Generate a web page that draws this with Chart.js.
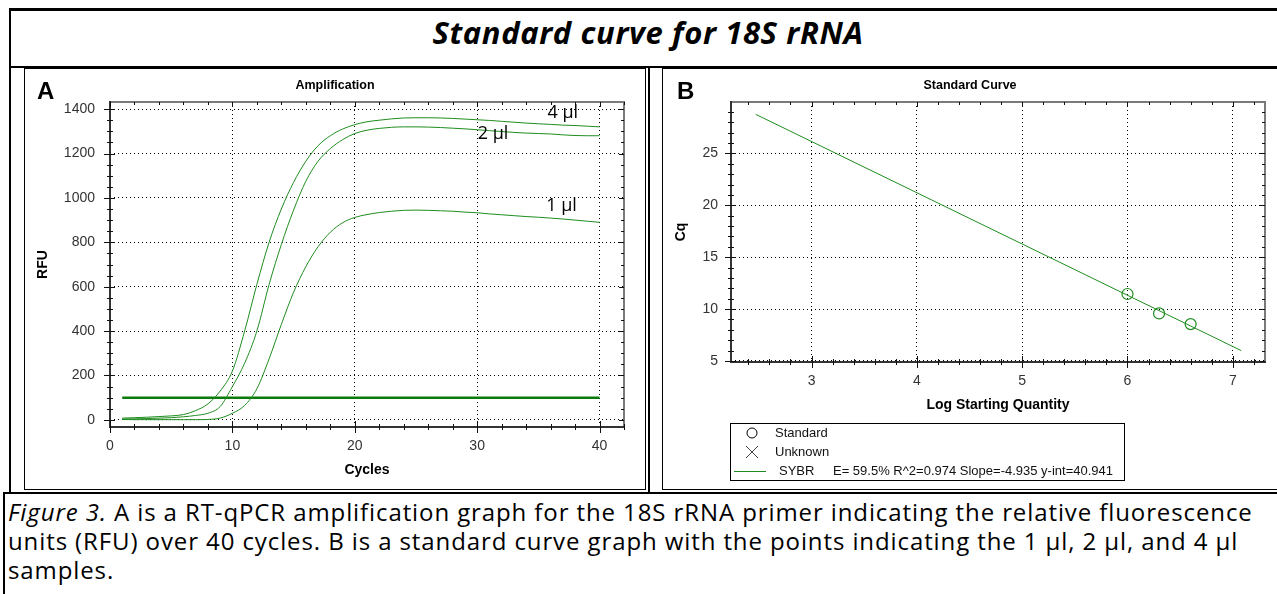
<!DOCTYPE html>
<html>
<head>
<meta charset="utf-8">
<script src="https://cdn.jsdelivr.net/npm/chart.js@4.4.0/dist/chart.umd.min.js"></script>
<style>
  body { margin: 0; background: #fff; width: 1277px; height: 594px; overflow: hidden; position: relative; }
  .ln { position: absolute; background: #000; }
  .frame { position: absolute; border: 1px solid #000; box-sizing: border-box; }
  .wrap { position: absolute; }
  #title { position: absolute; left: 10px; top: 11px; width: 1276px; height: 50px; line-height: 50px; letter-spacing: 0.6px;
           text-align: center; font: italic bold 31px "Open Sans", sans-serif; color: #000; }
  #cap { position: absolute; left: 8px; top: 497px; font: 24px/29px "Open Sans", sans-serif; letter-spacing: 0.9px;
         color: #000; white-space: nowrap; }
</style>
</head>
<body>
<div class="ln" style="left:10px;top:8px;width:1267px;height:3px"></div>
<div class="ln" style="left:9px;top:8px;width:2px;height:486px"></div>
<div class="ln" style="left:10px;top:66px;width:1267px;height:2px"></div>
<div class="ln" style="left:648px;top:66px;width:2px;height:428px"></div>
<div class="ln" style="left:3px;top:492px;width:1274px;height:2px"></div>
<div class="ln" style="left:3px;top:492px;width:2px;height:102px"></div>
<div class="frame" style="left:24px;top:68px;width:622px;height:422px"></div>
<div class="frame" style="left:662px;top:68px;width:640px;height:422px"></div>

<div id="title">Standard curve for 18S rRNA</div>

<div class="wrap" style="left:25px;top:69px;width:620px;height:420px"><canvas id="amp"></canvas></div>
<div class="wrap" style="left:663px;top:69px;width:614px;height:420px"><canvas id="std"></canvas></div>

<div id="cap"><i>Figure 3.</i> A is a RT-qPCR amplification graph for the 18S rRNA primer indicating the relative fluorescence<br>units (RFU) over 40 cycles. B is a standard curve graph with the points indicating the 1 µl, 2 µl, and 4 µl<br>samples.</div>

<script>
// panel A: amplification curves (RFU per cycle)
const cycles = [1,2,3,4,5,6,7,8,9,10,11,12,13,14,15,16,17,18,19,20,
                21,22,23,24,25,26,27,28,29,30,31,32,33,34,35,36,37,38,39,40];
const rfu4ul = [8,10,12,15,18,24,42,72,130,220,400,610,800,950,1070,1165,1235,1280,1310,1330,
                1343,1350,1356,1360,1361,1361,1360,1358,1355,1352,1349,1345,1341,1337,1334,1331,1328,1326,1323,1320];
const rfu2ul = [4,5,6,8,10,14,20,30,60,150,255,400,610,790,945,1075,1165,1222,1262,1290,
                1305,1313,1318,1320,1320,1319,1317,1314,1311,1307,1303,1299,1295,1292,1290,1288,1284,1281,1280,1280];
const rfu1ul = [2,1,1,1,1,1,1,2,8,30,65,140,275,430,575,690,780,845,888,912,
                925,934,940,944,945,944,942,940,936,933,928,924,920,916,913,909,905,900,895,890];
const thresholdX = [1, 40];
const thresholdRFU = 100;
const sampleNames = ['4 µl', '2 µl', '1 µl'];

// panel B: standard curve
const logQty = [6.0, 6.3, 6.6];
const cqValues = [11.45, 9.58, 8.55];
const fitX = [2.47, 7.08];
const fitCq = [28.76, 6.0];
const fitText = 'E= 59.5% R^2=0.974 Slope=-4.935 y-int=40.941';

const green = '#1e8c1e';
const tickFont = { family: '"Liberation Sans", Arial, sans-serif', size: 14 };
const titleFont = { family: '"Liberation Sans", Arial, sans-serif', size: 14, weight: 'bold' };

const decor = {
  id: 'decor',
  afterDraw(chart, args, o) {
    const { ctx, chartArea: a } = chart;
    const xs = chart.scales.x, ys = chart.scales.y;
    const isMajor = (v, m) => Math.abs(v / m - Math.round(v / m)) < 1e-6;
    const first = (s, step) => Math.ceil(s.min / step - 1e-9) * step;
    ctx.save();
    // frame
    ctx.lineWidth = 2;
    ctx.strokeStyle = '#7a7a7a';
    ctx.beginPath(); ctx.moveTo(a.left, a.top); ctx.lineTo(a.right, a.top); ctx.lineTo(a.right, a.bottom); ctx.stroke();
    ctx.strokeStyle = '#333';
    ctx.beginPath(); ctx.moveTo(a.left, a.top - 1); ctx.lineTo(a.left, a.bottom); ctx.lineTo(a.right + 1, a.bottom); ctx.stroke();
    // tick marks
    ctx.lineWidth = 1; ctx.strokeStyle = '#111';
    ctx.beginPath();
    for (let i = 0; ; i++) {
      const v = first(xs, o.xMinor) + i * o.xMinor;
      if (v > xs.max + 1e-9) break;
      const p = Math.round(xs.getPixelForValue(v)) + 0.5;
      const big = isMajor(v, o.xMajor);
      ctx.moveTo(p, a.bottom - (big ? 6 : 3)); ctx.lineTo(p, a.bottom + (big ? 6 : 3));
      ctx.moveTo(p, a.top); ctx.lineTo(p, a.top + (big ? 5 : 3));
    }
    for (let i = 0; ; i++) {
      const v = first(ys, o.yMinor) + i * o.yMinor;
      if (v > ys.max + 1e-9) break;
      const p = Math.round(ys.getPixelForValue(v)) + 0.5;
      const big = isMajor(v, o.yMajor);
      ctx.moveTo(a.left - (big ? 6 : 3), p); ctx.lineTo(a.left + (big ? 5 : 3), p);
      ctx.moveTo(a.right, p); ctx.lineTo(a.right - (big ? 5 : 3), p);
    }
    ctx.stroke();
    // panel letter and title
    ctx.fillStyle = '#000';
    ctx.textBaseline = 'middle';
    ctx.textAlign = 'left';
    ctx.font = 'bold 24px "Liberation Sans", Arial, sans-serif';
    ctx.fillText(o.letter, o.letterX, 23);
    ctx.textAlign = 'center';
    ctx.font = 'bold 12.5px "Liberation Sans", Arial, sans-serif';
    ctx.fillText(o.title, chart.width / 2, 17);
    // curve labels
    if (o.notes) {
      ctx.font = '18px "Open Sans", sans-serif';
      o.notes.forEach(n => ctx.fillText(n.text, xs.getPixelForValue(n.x), ys.getPixelForValue(n.y)));
    }
    // legend box
    if (o.legend) {
      const L = o.legend;
      ctx.lineWidth = 1; ctx.strokeStyle = '#000';
      ctx.strokeRect(L.x + 0.5, L.y + 0.5, 394, 57);
      ctx.font = '13px "Liberation Sans", Arial, sans-serif';
      ctx.textAlign = 'left';
      ctx.beginPath(); ctx.arc(L.x + 22, L.y + 10, 5, 0, Math.PI * 2); ctx.stroke();
      ctx.strokeStyle = '#444';
      ctx.beginPath();
      ctx.moveTo(L.x + 16, L.y + 23); ctx.lineTo(L.x + 28, L.y + 35);
      ctx.moveTo(L.x + 28, L.y + 23); ctx.lineTo(L.x + 16, L.y + 35);
      ctx.stroke();
      ctx.strokeStyle = green;
      ctx.beginPath(); ctx.moveTo(L.x + 4, L.y + 48.5); ctx.lineTo(L.x + 36, L.y + 48.5); ctx.stroke();
      ctx.fillStyle = '#111';
      ctx.fillText('Standard', L.x + 45, L.y + 10);
      ctx.fillText('Unknown', L.x + 45, L.y + 29);
      ctx.fillText('SYBR', L.x + 49, L.y + 48);
      ctx.fillText(L.text, L.x + 103, L.y + 48);
    }
    ctx.restore();
  }
};

const pts = (xs, ys) => xs.map((x, i) => ({ x: x, y: ys[i] }));
const plain = v => String(v);

new Chart(document.getElementById('amp'), {
  type: 'line',
  data: {
    datasets: [
      { data: pts(cycles, rfu4ul), borderColor: green, borderWidth: 1, pointRadius: 0, cubicInterpolationMode: 'monotone' },
      { data: pts(cycles, rfu2ul), borderColor: green, borderWidth: 1, pointRadius: 0, cubicInterpolationMode: 'monotone' },
      { data: pts(cycles, rfu1ul), borderColor: green, borderWidth: 1, pointRadius: 0, cubicInterpolationMode: 'monotone' },
      { data: pts(thresholdX, thresholdX.map(() => thresholdRFU)), borderColor: '#0a7a0a', borderWidth: 2.5, pointRadius: 0 }
    ]
  },
  options: {
    responsive: true, maintainAspectRatio: false, animation: false,
    layout: { padding: { top: 33, left: 0, right: 21, bottom: 0 } },
    plugins: {
      legend: { display: false }, tooltip: { enabled: false },
      decor: {
        letter: 'A', letterX: 12, title: 'Amplification',
        xMinor: 2, xMajor: 10, yMinor: 50, yMajor: 200,
        notes: [
          { text: sampleNames[0], x: 37.0, y: 1382 },
          { text: sampleNames[1], x: 31.3, y: 1290 },
          { text: sampleNames[2], x: 36.9, y: 963 }
        ]
      }
    },
    scales: {
      x: {
        type: 'linear', min: 0, max: 42,
        afterFit: s => { s.height = 62; },
        ticks: { stepSize: 10, includeBounds: false, padding: 11, color: '#333', font: tickFont, maxRotation: 0, callback: plain },
        grid: { color: '#000', drawTicks: false },
        border: { display: false, dash: [1, 3] },
        title: { display: true, text: 'Cycles', color: '#000', font: titleFont, padding: { top: 0, bottom: 10 } }
      },
      y: {
        min: -32, max: 1432,
        afterFit: s => { s.width = 85; },
        ticks: { stepSize: 200, includeBounds: false, padding: 15, color: '#333', font: tickFont, callback: plain },
        grid: { color: '#000', drawTicks: false },
        border: { display: false, dash: [1, 3] },
        title: { display: true, text: 'RFU', color: '#000', font: titleFont, padding: { top: 10, bottom: 0 } }
      }
    }
  },
  plugins: [decor]
});

new Chart(document.getElementById('std'), {
  type: 'scatter',
  data: {
    datasets: [
      { data: pts(fitX, fitCq), showLine: true, borderColor: green, borderWidth: 1, pointRadius: 0 },
      { data: pts(logQty, cqValues), pointStyle: 'circle', pointRadius: 5.5, borderWidth: 1.2,
        borderColor: green, backgroundColor: 'rgba(0,0,0,0)' }
    ]
  },
  options: {
    responsive: true, maintainAspectRatio: false, animation: false,
    layout: { padding: { top: 33, left: 0, right: 12, bottom: 62 } },
    plugins: {
      legend: { display: false }, tooltip: { enabled: false },
      decor: {
        letter: 'B', letterX: 14, title: 'Standard Curve',
        xMinor: 0.2, xMajor: 1, yMinor: 1, yMajor: 5,
        legend: { x: 67, y: 354, text: fitText }
      }
    },
    scales: {
      x: {
        type: 'linear', min: 2.235, max: 7.306,
        afterFit: s => { s.height = 65; },
        ticks: { stepSize: 1, includeBounds: false, padding: 11, color: '#333', font: tickFont, maxRotation: 0, callback: plain },
        grid: { color: '#000', drawTicks: false },
        border: { display: false, dash: [1, 3] },
        title: { display: true, text: 'Log Starting Quantity', color: '#000', font: titleFont, padding: { top: 0, bottom: 13 } }
      },
      y: {
        min: 4.9, max: 29.95,
        afterFit: s => { s.width = 68; },
        ticks: { stepSize: 5, includeBounds: false, padding: 13, color: '#333', font: tickFont, callback: plain },
        grid: { color: '#000', drawTicks: false },
        border: { display: false, dash: [1, 3] },
        title: { display: true, text: 'Cq', color: '#000', font: titleFont, padding: { top: 10, bottom: 0 } }
      }
    }
  },
  plugins: [decor]
});
</script>
</body>
</html>
